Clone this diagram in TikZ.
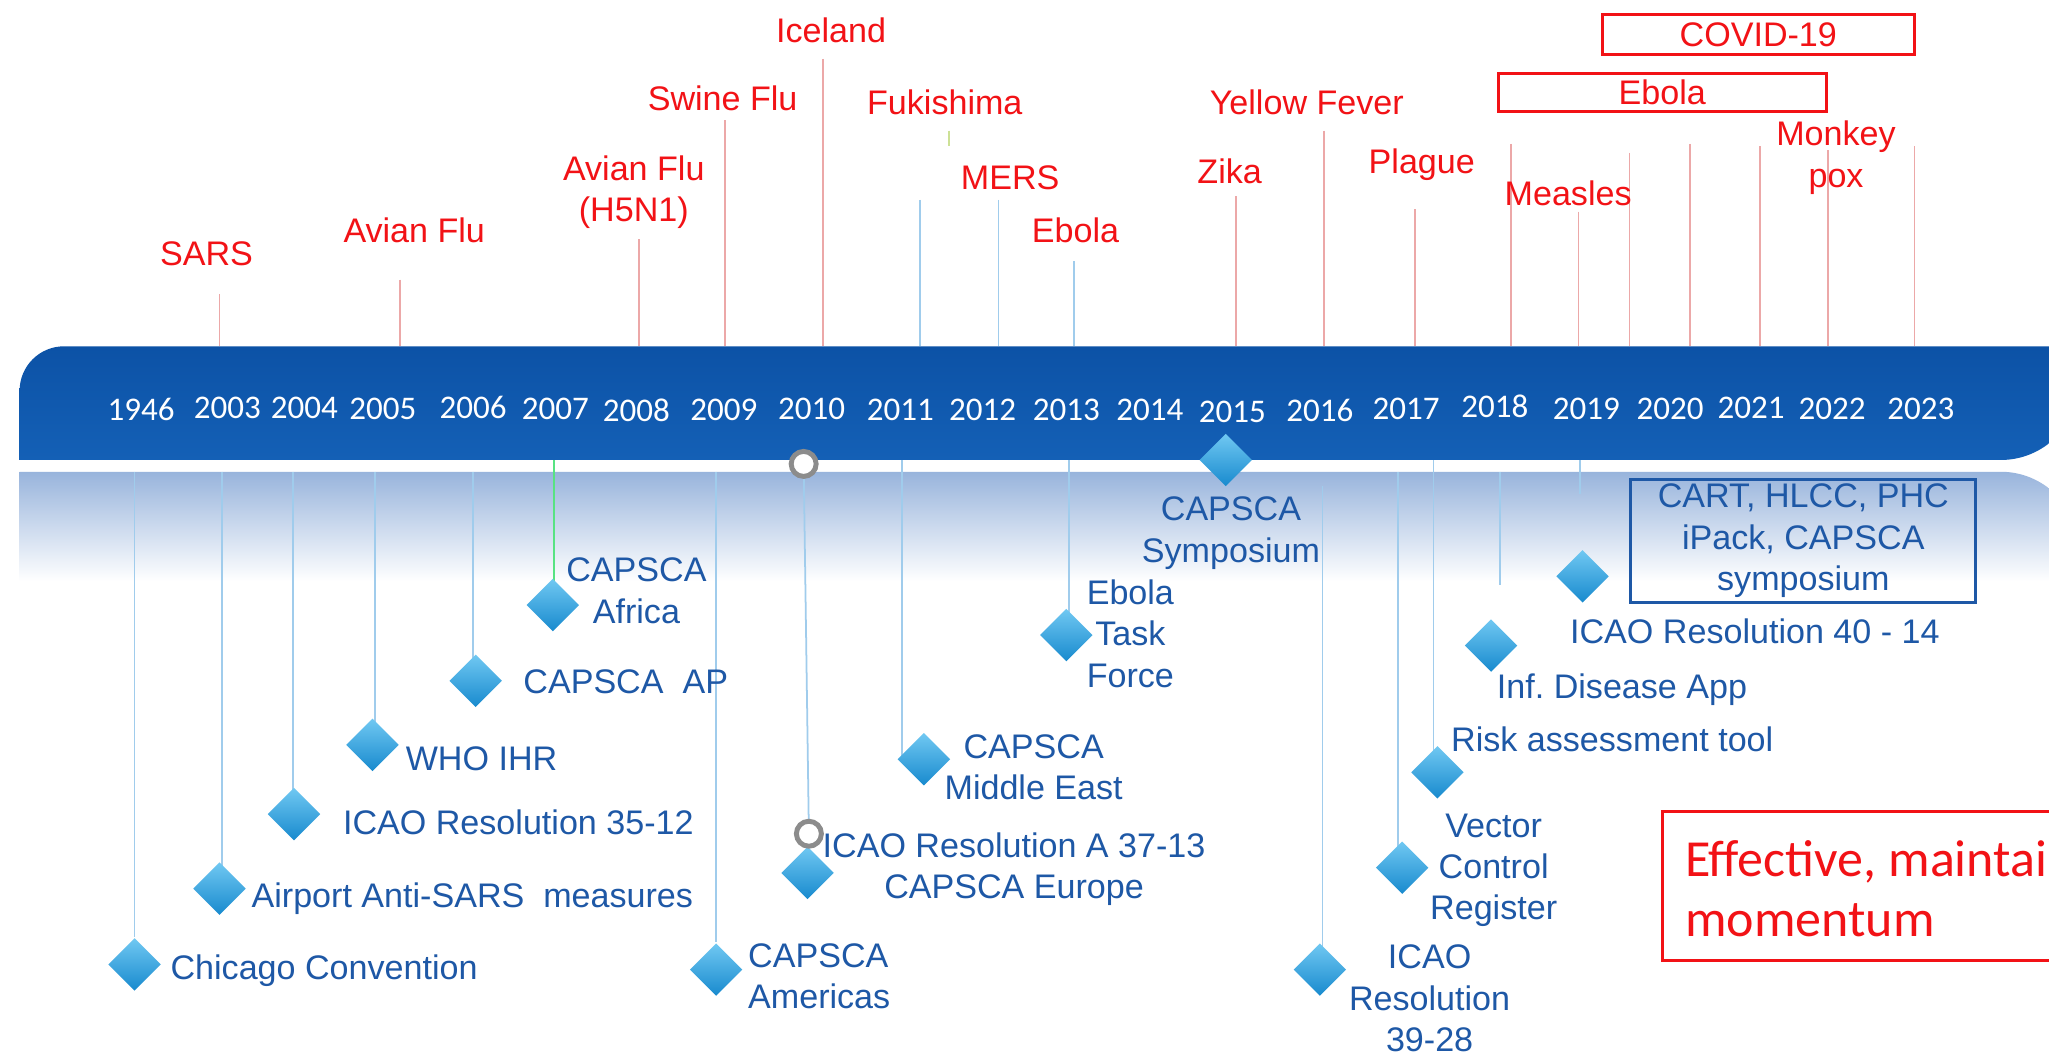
\documentclass[tikz,border=0pt]{standalone}
\usepackage{fontspec}
\setmainfont{Liberation Sans}
\newfontfamily\calibrifont{Carlito}
\usepackage{xcolor}
\usepackage{tikz}
\usetikzlibrary{shapes.geometric, positioning, backgrounds}
\definecolor{bandcolor}{RGB}{12, 82, 166}
\definecolor{bandlowcolor}{RGB}{20, 96, 182}
\definecolor{shadowcolor}{RGB}{152, 180, 220}
\definecolor{outbreakcolor}{RGB}{242, 18, 22}
\definecolor{milestonecolor}{RGB}{30, 88, 166}
\definecolor{gemlight}{RGB}{112, 200, 242}
\definecolor{gemdark}{RGB}{24, 138, 206}
\definecolor{stemcolor}{RGB}{160, 204, 236}
\definecolor{pincolor}{RGB}{236, 168, 168}
\definecolor{tickcolor}{RGB}{205, 225, 150}
\definecolor{ringcolor}{RGB}{140, 140, 140}
\frenchspacing

\begin{document}
\begin{tikzpicture}[
    x=1.3068cm, y=-1.3068cm,
    outbreak/.style={text=outbreakcolor, font=\fontsize{9.7}{11.8}\selectfont, align=center, inner sep=0pt},
    outbreakbox/.style={outbreak, draw=outbreakcolor, line width=0.8pt},
    milestone/.style={text=milestonecolor, font=\fontsize{9.7}{11.8}\selectfont, inner sep=0pt},
    year/.style={text=white, font=\calibrifont\fontsize{9.4}{11}\selectfont, inner sep=0pt},
    gem/.style={diamond, minimum size=0.53cm, inner sep=0pt, top color=gemlight, bottom color=gemdark},
    ring/.style={circle, draw=ringcolor, line width=1.4pt, fill=white, minimum size=0.25cm, inner sep=0pt},
    stem/.style={draw=stemcolor, line width=0.5pt},
    pin/.style={draw=pincolor, line width=0.5pt},
]
    % Canvas
    \useasboundingbox (0, 0) rectangle (15.68, 8.10);

    % Timeline band
    \shade[top color=bandcolor, bottom color=bandlowcolor]
        (0.15, 3.52) -- (0.15, 2.99) arc (180:270:0.34) -- (15.91, 2.65) -- (15.91, 2.92) arc (0:90:0.60) -- cycle;
    \coordinate (bandtop) at (0, 2.65);
    \coordinate (bandfoot) at (0, 3.61);

    % Years
    \node[year] (y1946) at (1.08, 3.13) {1946};
    \node[year] (y2003) at (1.74, 3.12) {2003};
    \node[year] (y2004) at (2.33, 3.12) {2004};
    \node[year] (y2005) at (2.93, 3.13) {2005};
    \node[year] (y2006) at (3.62, 3.12) {2006};
    \node[year] (y2007) at (4.25, 3.13) {2007};
    \node[year] (y2008) at (4.87, 3.14) {2008};
    \node[year] (y2009) at (5.54, 3.14) {2009};
    \node[year] (y2010) at (6.21, 3.13) {2010};
    \node[year] (y2011) at (6.89, 3.14) {2011};
    \node[year] (y2012) at (7.52, 3.14) {2012};
    \node[year] (y2013) at (8.16, 3.14) {2013};
    \node[year] (y2014) at (8.80, 3.14) {2014};
    \node[year] (y2015) at (9.43, 3.15) {2015};
    \node[year] (y2016) at (10.10, 3.14) {2016};
    \node[year] (y2017) at (10.76, 3.13) {2017};
    \node[year] (y2018) at (11.44, 3.11) {2018};
    \node[year] (y2019) at (12.14, 3.13) {2019};
    \node[year] (y2020) at (12.78, 3.13) {2020};
    \node[year] (y2021) at (13.40, 3.12) {2021};
    \node[year] (y2022) at (14.02, 3.13) {2022};
    \node[year] (y2023) at (14.70, 3.13) {2023};

    % Outbreaks
    \node[outbreak] (sars) at (1.58, 1.94) {SARS};
    \node[outbreak] (avian) at (3.17, 1.76) {Avian Flu};
    \node[outbreak] (hfive) at (4.85, 1.47) {Avian Flu\\(H5N1)};
    \node[outbreak] (swine) at (5.53, 0.75) {Swine Flu};
    \node[outbreak] (iceland) at (6.36, 0.23) {Iceland};
    \node[outbreak] (fuki) at (7.23, 0.78) {Fukishima};
    \node[outbreak] (mers) at (7.73, 1.36) {MERS};
    \node[outbreak] (ebola13) at (8.23, 1.76) {Ebola};
    \node[outbreak] (zika) at (9.41, 1.31) {Zika};
    \node[outbreak] (yellow) at (10.00, 0.78) {Yellow Fever};
    \node[outbreak] (plague) at (10.88, 1.26) {Plague};
    \node[outbreak] (measles) at (12.00, 1.48) {Measles};
    \node[outbreakbox, minimum width=3.28cm, minimum height=0.38cm] (ebola18) at (12.72, 0.705) {Ebola};
    \node[outbreakbox, minimum width=3.12cm, minimum height=0.40cm] (covid) at (13.455, 0.265) {COVID-19};
    \node[outbreak] (monkey) at (14.05, 1.205) {Monkey\\pox};

    % Milestones
    \node[gem] (gChicago) at (1.03, 7.38) {};
    \node[gem] (gAntiSars) at (1.68, 6.80) {};
    \node[gem] (gRes3512) at (2.25, 6.23) {};
    \node[gem] (gIHR) at (2.85, 5.70) {};
    \node[gem] (gAP) at (3.64, 5.21) {};
    \node[gem] (gAfrica) at (4.23, 4.63) {};
    \node[gem] (gAmericas) at (5.48, 7.42) {};
    \node[gem] (gEurope) at (6.18, 6.68) {};
    \node[gem] (gMideast) at (7.07, 5.81) {};
    \node[gem] (gTaskForce) at (8.16, 4.86) {};
    \node[gem] (gSymposium) at (9.38, 3.52) {};
    \node[gem] (gRes3928) at (10.10, 7.42) {};
    \node[gem] (gVector) at (10.73, 6.64) {};
    \node[gem] (gRisk) at (11.00, 5.91) {};
    \node[gem] (gApp) at (11.41, 4.94) {};
    \node[gem] (gRes4014) at (12.11, 4.41) {};
    \node[ring] (rTop) at (6.15, 3.55) {};
    \node[ring] (rLow) at (6.19, 6.38) {};

    \node[milestone, anchor=west] (chicago) at (1.30, 7.43) {Chicago Convention};
    \node[milestone, anchor=west] (antisars) at (1.92, 6.88) {Airport Anti-SARS \ measures};
    \node[milestone, anchor=west] (res3512) at (2.62, 6.29) {ICAO Resolution 35-12};
    \node[milestone, anchor=west] (ihr) at (3.10, 5.81) {WHO IHR};
    \node[milestone, anchor=west] (ap) at (4.00, 5.22) {CAPSCA \ AP};
    \node[milestone, align=center] (africa) at (4.87, 4.52) {CAPSCA\\Africa};
    \node[milestone, align=left, anchor=west] (americas) at (5.72, 7.47) {CAPSCA\\Americas};
    \node[milestone, align=center] (europe) at (7.76, 6.65) {ICAO Resolution A 37-13\\CAPSCA Europe};
    \node[milestone, align=center] (mideast) at (7.91, 5.87) {CAPSCA\\Middle East};
    \node[milestone, align=center] (taskforce) at (8.65, 4.85) {Ebola\\Task\\Force};
    \node[milestone, align=center] (symposium) at (9.42, 4.08) {CAPSCA\\Symposium};
    \node[milestone, align=center] (res3928) at (10.94, 7.64) {ICAO\\Resolution\\39-28};
    \node[milestone, align=center] (vector) at (11.43, 6.66) {Vector\\Control\\Register};
    \node[milestone, anchor=west] (risk) at (11.10, 5.66) {Risk assessment tool};
    \node[milestone, anchor=west] (app) at (11.45, 5.28) {Inf. Disease App};
    \node[milestone, anchor=west] (res4014) at (12.01, 4.83) {ICAO Resolution 40 - 14};
    \node[milestone, align=center, draw=milestonecolor, line width=0.8pt,
          minimum width=3.45cm, minimum height=1.23cm] (packs) at (13.80, 4.14) {CART, HLCC, PHC\\iPack, CAPSCA\\symposium};

    % Call to action
    \draw[outbreakcolor, line width=0.9pt] (12.72, 6.21) rectangle (16.20, 7.35);
    \node[text=outbreakcolor, font=\calibrifont\fontsize{14.8}{17.2}\selectfont, align=left, inner sep=0pt, anchor=west]
        (momentum) at (12.89, 6.80) {Effective, maintai\\momentum};

    \begin{scope}[on background layer]
        \fill[white] (0, 0) rectangle (15.68, 8.10);
        \shade[top color=shadowcolor, bottom color=white]
            (0.15, 4.45) -- (0.15, 3.61) -- (15.31, 3.61) arc (270:360:0.60) -- (15.91, 4.45) -- cycle;

        % Outbreak pins
        \coordinate (pSars) at (1.68, 2.25);
        \coordinate (pAvian) at (3.06, 2.14);
        \coordinate (pHfive) at (4.89, 1.83);
        \coordinate (pSwine) at (5.55, 0.92);
        \coordinate (pIceland) at (6.30, 0.45);
        \coordinate (pEleven) at (7.04, 1.53);
        \coordinate (pMers) at (7.64, 1.53);
        \coordinate (pEbola) at (8.22, 2.00);
        \coordinate (pZika) at (9.46, 1.50);
        \coordinate (pYellow) at (10.13, 1.00);
        \coordinate (pPlague) at (10.83, 1.60);
        \coordinate (pEighteen) at (11.56, 1.10);
        \coordinate (pMeasles) at (12.08, 1.62);
        \coordinate (pNineteen) at (12.47, 1.17);
        \coordinate (pTwenty) at (12.93, 1.10);
        \coordinate (pTwentyOne) at (13.47, 1.12);
        \coordinate (pMonkey) at (13.99, 1.15);
        \coordinate (pTwentyThree) at (14.65, 1.12);
        \coordinate (fukiTop) at (7.26, 1.00);
        \coordinate (fukiEnd) at (7.26, 1.12);
        \draw[pin] (pSars) -- (pSars |- bandtop);
        \draw[pin] (pAvian) -- (pAvian |- bandtop);
        \draw[pin] (pHfive) -- (pHfive |- bandtop);
        \draw[pin] (pSwine) -- (pSwine |- bandtop);
        \draw[pin] (pIceland) -- (pIceland |- bandtop);
        \draw[stem] (pEleven) -- (pEleven |- bandtop);
        \draw[stem] (pMers) -- (pMers |- bandtop);
        \draw[stem] (pEbola) -- (pEbola |- bandtop);
        \draw[pin] (pZika) -- (pZika |- bandtop);
        \draw[pin] (pYellow) -- (pYellow |- bandtop);
        \draw[pin] (pPlague) -- (pPlague |- bandtop);
        \draw[pin] (pEighteen) -- (pEighteen |- bandtop);
        \draw[pin] (pMeasles) -- (pMeasles |- bandtop);
        \draw[pin] (pNineteen) -- (pNineteen |- bandtop);
        \draw[pin] (pTwenty) -- (pTwenty |- bandtop);
        \draw[pin] (pTwentyOne) -- (pTwentyOne |- bandtop);
        \draw[pin] (pMonkey) -- (pMonkey |- bandtop);
        \draw[pin] (pTwentyThree) -- (pTwentyThree |- bandtop);
        \draw[tickcolor, line width=0.6pt] (fukiTop) -- (fukiEnd);

        % Milestone stems
        \draw[stem] (gChicago |- bandfoot) -- (gChicago);
        \draw[stem] (1.70, 3.61) coordinate (sAntiSars) -- (sAntiSars |- gAntiSars);
        \draw[stem] (2.24, 3.61) coordinate (sRes3512) -- (sRes3512 |- gRes3512);
        \draw[stem] (2.87, 3.61) coordinate (sIHR) -- (sIHR |- gIHR);
        \draw[stem] (3.62, 3.61) coordinate (sAP) -- (sAP |- gAP);
        \draw[stem, draw=green!45!stemcolor] (4.24, 3.52) coordinate (sAfrica) -- (sAfrica |- gAfrica);
        \draw[stem] (gAmericas |- bandfoot) -- (gAmericas);
        \draw[stem] (rTop) -- (rLow);
        \draw[stem] (6.90, 3.52) coordinate (sMideast) -- (sMideast |- gMideast);
        \draw[stem] (8.18, 3.52) coordinate (sTaskForce) -- (sTaskForce |- gTaskForce);
        \draw[stem] (10.12, 3.72) coordinate (sRes3928) -- (sRes3928 |- gRes3928);
        \draw[stem] (10.70, 3.61) coordinate (sVector) -- (sVector |- gVector);
        \draw[stem] (10.97, 3.52) coordinate (sRisk) -- (sRisk |- gRisk);
        \draw[stem] (11.48, 3.61) coordinate (sApp) -- (11.48, 4.48) coordinate (eApp);
        \draw[stem] (12.09, 3.52) coordinate (sRes4014) -- (12.09, 3.78) coordinate (eRes4014);
    \end{scope}
\end{tikzpicture}
\end{document}
